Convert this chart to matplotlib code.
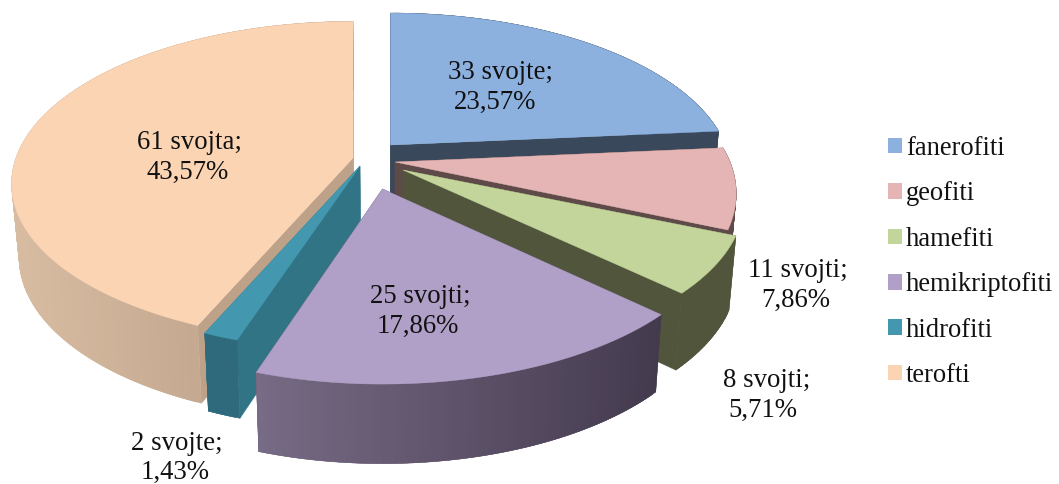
import numpy as np
import matplotlib
matplotlib.use("Agg")
import matplotlib.pyplot as plt
from matplotlib.patches import Patch

categories = ["fanerofiti", "geofiti", "hamefiti", "hemikriptofiti", "hidrofiti", "terofti"]
counts = [33, 11, 8, 25, 2, 61]
label_names = ["33 svojte;", "11 svojti;", "8 svojti;", "25 svojti;", "2 svojte;", "61 svojta;"]
label_pcts = ["23,57%", "7,86%", "5,71%", "17,86%", "1,43%", "43,57%"]

top_colors = ["#8CB1DF", "#E4B5B4", "#C3D59B", "#B0A0C7", "#4398B0", "#FBD4B4"]
radial_colors = ["#39485B", "#5F4A4A", "#50553C", "#4A4055", "#317486", "#BDA188"]
wall_left = ["#39485B", "#5F4A4A", "#50553C", "#776B85", "#2F6A7C", "#D8BCA2"]
wall_right = ["#39485B", "#5F4A4A", "#50553C", "#443A4E", "#2F6A7C", "#B49A82"]

apex_x = [390.5, 395, 403, 382.5, 360, 353]
apex_y = [145, 162, 170, 189, 166, 158]
radius_x = [335, 335, 335, 335, 326, 337]
radius_y = [157, 160, 155, 158, 150, 157]
persp_x = [0.19, 0.19, 0.19, 0.19, 0.19, 0.16]
persp_y = [0.19, 0.19, 0.19, 0.19, 0.19, 0.15]
name_x = [500, 798, 767, 420, 177, 189.5]
name_base = [79, 277, 387, 303, 450, 149]
pct_x = [495, 796, 763, 418, 175, 188]
pct_base = [109, 307, 417, 333, 479, 179]
paint_order = [0, 5, 1, 2, 4, 3]

VX, SHRINK = 385.0, 0.98

plt.rcParams["font.family"] = ["Liberation Serif", "DejaVu Serif"]
fig = plt.figure(figsize=(10.59, 4.84), dpi=100)
ax = fig.add_axes([0, 0, 1, 1])
ax.set_xlim(0, 1059)
ax.set_ylim(484, 0)
ax.axis("off")

edges = np.cumsum([0] + counts) / sum(counts) * 2 * np.pi


def rim(i, theta):
    sx = 1 / (1 + persp_x[i] * np.cos(theta))
    sy = 1 / (1 + persp_y[i] * np.cos(theta))
    return (apex_x[i] + radius_x[i] * np.sin(theta) * sx,
            apex_y[i] - radius_y[i] * np.cos(theta) * sy)


def lower(x, y):
    x = np.asarray(x, float)
    y = np.asarray(y, float)
    return VX + (x - VX) * SHRINK, y + 68 + 0.03 * y


def solid(xs, ys, color, z):
    ax.fill(xs, ys, facecolor=color, edgecolor=color, linewidth=0.3, zorder=z)


def blend(c1, c2, t):
    a = np.array(matplotlib.colors.to_rgb(c1))
    b = np.array(matplotlib.colors.to_rgb(c2))
    return tuple(a + (b - a) * t)


z = 1
for i in paint_order:
    t0, t1 = edges[i], edges[i + 1]
    for t in (t0, t1):
        x, y = rim(i, t)
        xs = np.array([apex_x[i], x])
        ys = np.array([apex_y[i], y])
        bx, by = lower(xs, ys)
        solid(np.r_[xs, bx[::-1]], np.r_[ys, by[::-1]], radial_colors[i], z)
    n = max(8, int(counts[i] * 3))
    th = np.linspace(t0, t1, n + 1)
    x, y = rim(i, th)
    bx, by = lower(x, y)
    lo, hi = x.min(), x.max()
    for k in range(n):
        end = min(k + 3, n + 1)
        frac = (0.5 * (x[k] + x[k + 1]) - lo) / (hi - lo)
        solid(np.r_[x[k:end], bx[k:end][::-1]], np.r_[y[k:end], by[k:end][::-1]],
              blend(wall_left[i], wall_right[i], frac), z)
    th = np.linspace(t0, t1, 200)
    x, y = rim(i, th)
    solid(np.r_[apex_x[i], x], np.r_[apex_y[i], y], top_colors[i], z + 1)
    z += 2

for i in range(len(categories)):
    ax.text(name_x[i], name_base[i], label_names[i], ha="center", va="baseline",
            fontsize=19.3, color="#111111", zorder=50)
    ax.text(pct_x[i], pct_base[i], label_pcts[i], ha="center", va="baseline",
            fontsize=19.3, color="#111111", zorder=50)

handles = [Patch(facecolor=c, edgecolor="none", label=n) for c, n in zip(top_colors, categories)]
ax.legend(handles=handles, loc="center left", bbox_to_anchor=(888 / 1059, 1 - 262 / 484),
          frameon=False, fontsize=19.1, borderpad=0, borderaxespad=0,
          handlelength=0.53, handleheight=0.53, handletextpad=0.15, labelspacing=0.77,
          labelcolor="#111111")

fig.savefig("out.png", dpi=100)
